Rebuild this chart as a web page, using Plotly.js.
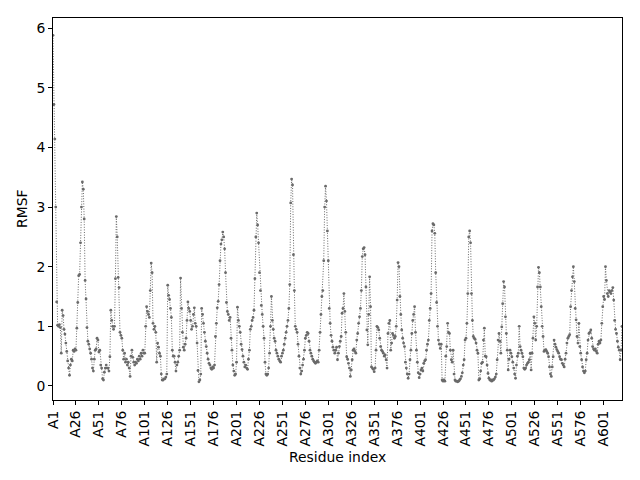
<!DOCTYPE html>
<html>
<head>
<meta charset="utf-8">
<script src="https://cdn.plot.ly/plotly-3.0.1.min.js"></script>
<style>
  html, body { margin: 0; padding: 0; background: #fff; }
  #myDiv { width: 640px; height: 480px; }
</style>
</head>
<body>
<div id="myDiv"></div>
<script>
// RMSF per residue
var rmsf = [
  5.88, 4.72, 4.14, 3.0, 1.41, 1.02, 1.0, 1.03, 0.98, 0.55,
  1.27, 1.18, 0.95, 0.87, 0.72, 0.58, 0.42, 0.3, 0.18, 0.35,
  0.45, 0.42, 0.6, 0.58, 0.62, 0.6, 0.97, 1.4, 1.85, 1.87,
  2.4, 3.0, 3.42, 3.3, 2.8, 1.77, 1.46, 0.98, 0.75, 0.7,
  0.62, 0.55, 0.45, 0.3, 0.25, 0.45, 0.6, 0.62, 0.8, 0.77,
  0.57, 0.6, 0.35, 0.3, 0.12, 0.1, 0.23, 0.3, 0.35, 0.3,
  0.3, 0.25, 0.49, 1.27, 1.1, 1.0, 0.95, 1.0, 1.8, 2.84,
  2.5, 1.82, 1.65, 0.9, 0.85, 0.8, 0.6, 0.45, 0.55, 0.4,
  0.45, 0.35, 0.4, 0.3, 0.16, 0.5, 0.6, 0.48, 0.4, 0.35,
  0.4, 0.38, 0.45, 0.42, 0.5, 0.45, 0.55, 0.5, 0.6, 0.55,
  0.55, 1.0, 1.33, 1.25, 1.2, 1.15, 1.6, 2.06, 1.9, 1.05,
  0.95, 1.0, 0.9, 0.4, 0.72, 0.65, 0.55, 0.5, 0.2, 0.1,
  0.1, 0.12, 0.12, 0.15, 0.2, 1.69, 1.52, 1.45, 1.3, 1.15,
  0.6, 0.5, 0.5, 0.4, 0.25, 0.35, 0.4, 0.5, 0.6, 1.81,
  1.3, 0.9, 0.65, 0.6, 0.7, 0.8, 1.1, 1.41, 1.3, 1.25,
  1.1, 0.95, 1.0, 1.2, 1.31, 1.05, 1.0, 0.72, 0.26, 0.07,
  0.1, 0.2, 1.3, 1.2, 1.05, 0.9, 0.75, 0.66, 0.55, 0.45,
  0.38, 0.35, 0.3, 0.28, 0.32, 0.3, 0.35, 0.83, 1.05, 1.31,
  1.42, 1.7, 2.1, 2.38, 2.45, 2.58, 2.5, 2.3, 1.9, 1.4,
  1.25, 1.2, 1.1, 1.15, 0.8, 0.6, 0.35, 0.25, 0.18, 0.2,
  0.4, 1.32, 1.1, 1.0, 0.9, 0.7, 0.61, 0.5, 0.4, 0.32,
  0.35, 0.3, 0.28, 0.45, 0.6, 0.95, 1.0, 1.1, 1.15, 1.27,
  1.8, 2.5, 2.9, 2.7, 2.4, 1.9, 1.6, 1.35, 1.2, 1.0,
  0.8, 0.4, 0.2, 0.18, 0.2, 0.3, 0.55, 1.0, 1.5, 1.1,
  0.95, 0.8, 0.75, 0.6, 0.55, 0.5, 0.45, 0.42, 0.4, 0.5,
  0.55, 0.6, 0.7, 0.8, 0.9, 1.0, 1.1, 1.3, 1.7, 3.07,
  3.47, 3.37, 2.2, 1.6, 1.0, 0.95, 0.9, 0.7, 0.5, 0.3,
  0.2, 0.25, 0.35, 0.45, 0.6, 0.8, 0.85, 0.9, 0.88, 0.75,
  0.6, 0.55, 0.5, 0.45, 0.42, 0.4, 0.38, 0.4, 0.42, 0.4,
  0.6, 0.9, 1.2, 1.5, 1.6, 2.1, 3.0, 3.35, 3.1, 2.6,
  2.1, 1.3, 1.05, 0.85, 0.75, 0.65, 0.6, 0.55, 0.6, 0.65,
  0.44, 0.55, 0.66, 0.75, 0.83, 1.22, 1.3, 1.55, 1.25, 0.9,
  0.49, 0.45, 0.38, 0.3, 0.16, 0.27, 0.44, 0.6, 0.62, 0.58,
  0.55, 0.77, 0.88, 1.05, 1.16, 1.3, 1.6, 2.17, 2.3, 2.32,
  2.2, 1.66, 0.94, 0.69, 1.2, 1.83, 1.33, 0.32, 0.3, 0.28,
  0.24, 0.3, 0.6, 1.0, 0.98, 0.94, 0.8, 0.66, 0.6, 0.58,
  0.55, 0.5, 0.52, 0.44, 0.3, 0.88, 1.05, 1.1, 0.6, 0.72,
  0.88, 0.85, 0.8, 0.83, 1.0, 1.44, 2.07, 2.0, 1.5, 1.2,
  0.94, 0.8, 0.72, 0.66, 0.4, 0.3, 0.2, 0.13, 0.2, 0.44,
  0.6, 0.88, 1.1, 1.2, 1.33, 0.9, 0.6, 0.4, 0.22, 0.14,
  0.2, 0.27, 0.3, 0.25, 0.38, 0.42, 0.44, 0.6, 0.7, 0.77,
  1.1, 1.3, 1.55, 2.6, 2.72, 2.7, 2.56, 1.9, 1.4, 1.0,
  0.77, 0.7, 0.63, 0.7, 0.1, 0.08, 0.1, 0.08, 0.5, 0.66,
  1.05, 0.9, 0.88, 0.6, 0.44, 0.4, 0.6, 0.2, 0.1, 0.08,
  0.08, 0.07, 0.08, 0.1, 0.12, 0.16, 0.22, 0.35, 0.44, 0.77,
  0.8, 1.05, 1.55, 2.5, 2.6, 2.4, 1.55, 1.1, 0.83, 0.8,
  0.78, 0.72, 0.6, 0.55, 0.1, 0.12, 0.25, 0.38, 0.4, 0.77,
  0.97, 0.5, 0.49, 0.35, 0.21, 0.13, 0.1, 0.1, 0.08, 0.1,
  0.1, 0.12, 0.15, 0.2, 0.44, 0.77, 0.88, 0.75, 0.55, 0.99,
  1.38, 1.75, 1.66, 1.16, 0.88, 0.6, 0.27, 0.45, 0.6, 0.55,
  0.49, 0.4, 0.3, 0.2, 0.13, 0.35, 0.5, 0.55, 1.0, 0.66,
  0.6, 0.55, 0.49, 0.3, 0.28, 0.3, 0.35, 0.38, 0.4, 0.44,
  0.55, 0.27, 0.55, 0.8, 1.16, 1.05, 0.77, 1.0, 1.66, 1.99,
  1.9, 1.66, 1.33, 1.0, 0.83, 0.58, 0.6, 0.61, 0.58, 0.55,
  0.49, 0.32, 0.2, 0.16, 0.32, 0.49, 0.77, 0.7, 0.65, 0.61,
  0.58, 0.55, 0.49, 0.45, 0.44, 0.38, 0.35, 0.32, 0.45, 0.55,
  0.72, 0.8, 0.83, 0.86, 1.33, 1.6, 1.83, 2.0, 1.75, 1.3,
  1.11, 0.83, 0.72, 1.05, 0.66, 0.55, 0.44, 0.32, 0.25, 0.22,
  0.25, 0.44, 0.55, 0.77, 0.88, 0.9, 0.94, 0.8, 0.66, 0.62,
  0.6, 0.62, 0.58, 0.55, 0.7, 0.75, 0.72, 0.77, 1.05, 1.33,
  1.5, 1.45, 2.0, 1.77, 1.55, 1.5, 1.6, 1.58, 1.55, 1.6,
  1.65, 1.44, 1.1, 0.95, 0.88, 0.75, 0.65, 0.6, 0.44, 0.6,
  1.0
];

var tickPos = [0, 25, 50, 75, 100, 125, 150, 175, 200, 225, 250, 275, 300,
               325, 350, 375, 400, 425, 450, 475, 500, 525, 550, 575, 600];
var tickText = ['A1', 'A26', 'A51', 'A76', 'A101', 'A126', 'A151', 'A176', 'A201',
                'A226', 'A251', 'A276', 'A301', 'A326', 'A351', 'A376', 'A401',
                'A426', 'A451', 'A476', 'A501', 'A526', 'A551', 'A576', 'A601'];

var residue = [];
for (var i = 0; i < rmsf.length; i++) residue.push(i);

var font = {family: 'DejaVu Sans', size: 13.9, color: '#000'};

var data = [{
  x: residue,
  y: rmsf,
  type: 'scatter',
  mode: 'lines+markers',
  line: {color: '#6a6a6a', width: 1, dash: '1px,1.6px'},
  marker: {color: '#6a6a6a', size: 2.8},
  hoverinfo: 'x+y'
}];

var axisCommon = {
  showline: true,
  mirror: true,
  linecolor: '#000',
  linewidth: 1,
  ticks: 'outside',
  ticklen: 4,
  tickwidth: 1,
  tickcolor: '#000',
  showgrid: false,
  zeroline: false,
  tickfont: font,
  automargin: false
};

var layout = {
  width: 640,
  height: 480,
  margin: {l: 53, r: 18, t: 18, b: 80, pad: 0},
  paper_bgcolor: '#fff',
  plot_bgcolor: '#fff',
  showlegend: false,
  xaxis: Object.assign({}, axisCommon, {
    range: [0, 620],
    tickmode: 'array',
    tickvals: tickPos,
    ticktext: tickText,
    tickangle: -90
  }),
  yaxis: Object.assign({}, axisCommon, {
    range: [-0.235, 6.17],
    tickmode: 'array',
    tickvals: [0, 1, 2, 3, 4, 5, 6]
  }),
  annotations: [
    {text: 'Residue index', xref: 'paper', yref: 'paper', x: 0.5, y: 0,
     xanchor: 'center', yanchor: 'middle', yshift: -57, showarrow: false, font: font},
    {text: 'RMSF', xref: 'paper', yref: 'paper', x: 0, y: 0.5, textangle: -90,
     xanchor: 'center', yanchor: 'middle', xshift: -31, showarrow: false, font: font}
  ]
};

Plotly.newPlot('myDiv', data, layout, {displayModeBar: false, staticPlot: true});
</script>
</body>
</html>
